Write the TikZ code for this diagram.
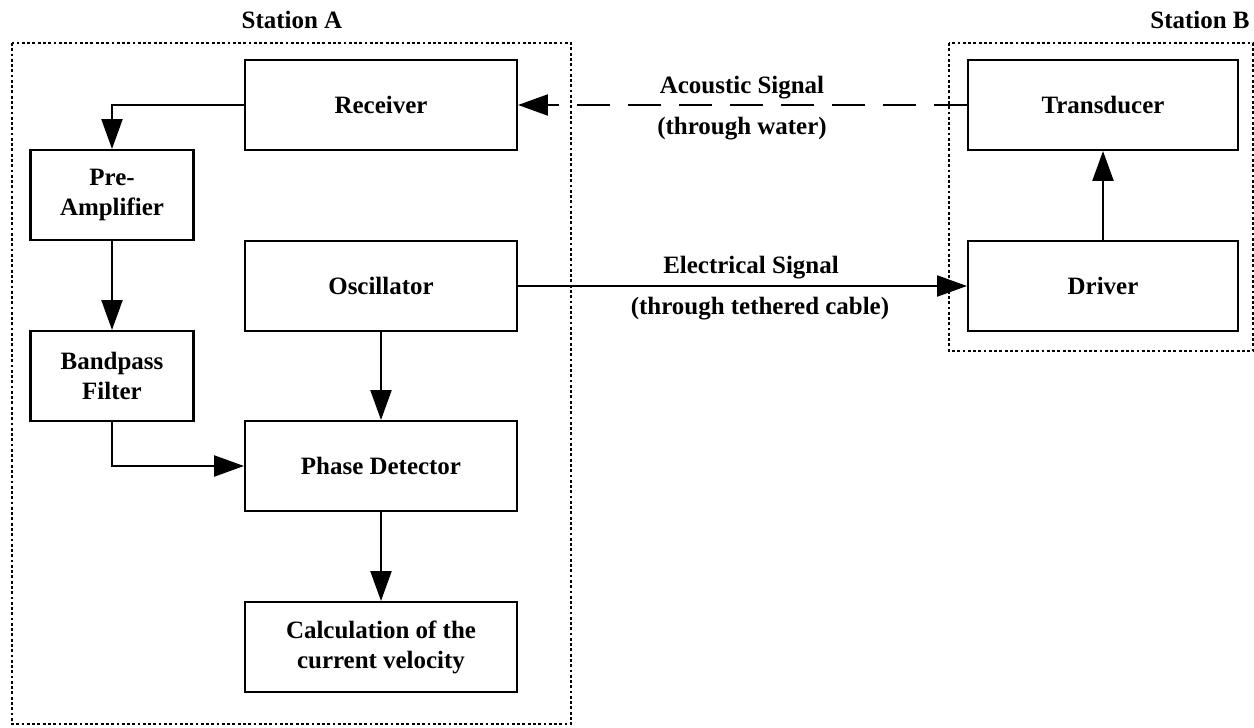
\documentclass[tikz,border=0pt]{standalone}
\usepackage{fontspec}
\setmainfont{Liberation Serif}
\usetikzlibrary{positioning,arrows.meta}

\tikzset{
  block/.style={draw, line width=1.2pt, minimum width=5.44cm, minimum height=1.8cm,
    align=center, font=\fontsize{14.2}{17}\selectfont\bfseries},
  smallblock/.style={block, minimum width=3.26cm},
  station/.style={draw, line width=1pt, dash pattern=on 1.6pt off 1.4pt},
  flow/.style={line width=1.1pt, -{Triangle[length=17pt, width=12pt]}},
  label/.style={font=\fontsize{14.2}{17}\selectfont\bfseries}
}

\begin{document}
\begin{tikzpicture}
  \useasboundingbox (0,0) rectangle (25.08,14.54);

  % Station frames
  \draw[station] (0.24,13.68) rectangle (11.42,0.06);
  \draw[station] (18.98,13.68) rectangle (25.06,7.52);
  \node[label] (titleA) at (5.84,14.14) {Station A};
  \node[label] (titleB) at (24.0,14.14) {Station B};

  % Station A blocks
  \node[block] (receiver) at (7.62,12.44) {Receiver};
  \node[smallblock] (preamp) at (2.24,10.64) {Pre-\\Amplifier};
  \node[block] (osc) at (7.62,8.82) {Oscillator};
  \node[smallblock] (filter) at (2.24,7.02) {Bandpass\\Filter};
  \node[block] (phase) at (7.62,5.22) {Phase Detector};
  \node[block] (calc) at (7.62,1.6) {Calculation of the\\current velocity};

  % Station B blocks
  \node[block, minimum width=5.4cm] (transducer) at (22.06,12.44) {Transducer};
  \node[block, minimum width=5.4cm] (driver) at (22.06,8.82) {Driver};

  % Signal path in station A
  \draw[flow] (receiver.west) -| (preamp.north);
  \draw[flow] (preamp) -- (filter);
  \draw[flow] (filter.south) |- (phase.west);
  \draw[flow] (osc) -- (phase);
  \draw[flow] (phase) -- (calc);

  % Links between the stations
  \draw[flow, dash pattern=on 19pt off 10pt] (transducer.west) -- (receiver.east);
  \draw[flow] (osc.east) -- (driver.west);
  \draw[flow] (driver) -- (transducer);

  % Link labels
  \node[label] (acoustic) at (14.84,12.78) {Acoustic Signal};
  \node[label] (water) at (14.84,11.96) {(through water)};
  \node[label] (electric) at (15.02,9.18) {Electrical Signal};
  \node[label] (cable) at (15.2,8.36) {(through tethered cable)};
\end{tikzpicture}
\end{document}
